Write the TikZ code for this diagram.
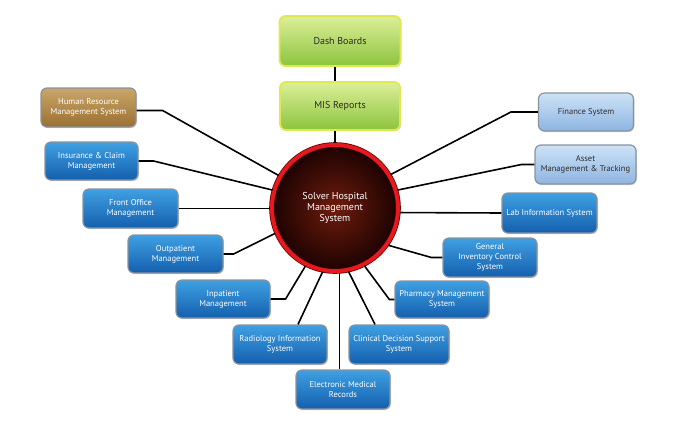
\documentclass[tikz,border=0pt]{standalone}
\usepackage{fontspec}
\setmainfont{PT Sans}
\usetikzlibrary{shadows,calc}
\definecolor{bluetop}{HTML}{3FA0E2}
\definecolor{bluebot}{HTML}{145FAE}
\definecolor{lbtop}{HTML}{CDE2F6}
\definecolor{lbbot}{HTML}{8DB5E1}
\definecolor{grtop}{HTML}{DCEF98}
\definecolor{grbot}{HTML}{8CC43E}
\definecolor{gredge}{HTML}{E2E650}
\definecolor{hrtop}{HTML}{CAA66A}
\definecolor{hrbot}{HTML}{9A7031}
\definecolor{boxedge}{HTML}{8A939C}
\definecolor{ringred}{HTML}{E8191E}
\definecolor{coreinner}{HTML}{6E1C0C}
\definecolor{coreouter}{HTML}{1C0202}
\definecolor{darktext}{HTML}{2B2B2B}
\begin{document}
\begin{tikzpicture}[x=1pt,y=-1pt,
  box/.style={rounded corners=6pt, draw=boxedge, line width=1.2pt, align=center,
    font=\fontsize{8.5}{10}\selectfont, inner sep=2pt,
    drop shadow={opacity=0.3, shadow xshift=1pt, shadow yshift=-1.2pt}},
  bluebox/.style={box, top color=bluetop, bottom color=bluebot, text=white},
  lightbox/.style={box, top color=lbtop, bottom color=lbbot, text=darktext},
  hrbox/.style={box, top color=hrtop, bottom color=hrbot, text=white},
  greenbox/.style={box, draw=gredge, line width=1.8pt, top color=grtop, bottom color=grbot,
    text=darktext, font=\fontsize{10}{12}\selectfont},
  hub/.style={circle, minimum size=126pt, inner color=coreinner, outer color=coreouter,
    draw=ringred, line width=4pt, text=white, align=center,
    font=\fontsize{10}{11}\selectfont,
    preaction={draw=black!60!red, line width=5.6pt}},
  link/.style={line width=1.6pt, draw=black}
]
\useasboundingbox (0,0) rectangle (680,423);

\node[greenbox, minimum width=121pt, minimum height=50pt] (dash) at (340,41) {Dash Boards};
\node[greenbox, minimum width=120pt, minimum height=48pt] (mis) at (340,106) {MIS Reports};
\node[hub] (c) at (335,208) {Solver Hospital\\Management\\System};

\node[hrbox, minimum width=95pt, minimum height=39pt] (hr) at (88.5,107.5) {Human Resource\\Management System};
\node[bluebox, minimum width=93pt, minimum height=38pt] (ins) at (91.5,161) {Insurance \& Claim\\Management};
\node[bluebox, minimum width=95pt, minimum height=39pt] (fo) at (130.5,208.5) {Front Office\\Management};
\node[bluebox, minimum width=95pt, minimum height=38pt] (outp) at (175.5,254) {Outpatient\\Management};
\node[bluebox, minimum width=94pt, minimum height=38pt] (inp) at (223,299) {Inpatient\\Management};
\node[bluebox, minimum width=94pt, minimum height=39pt] (rad) at (280,344.5) {Radiology Information\\System};
\node[bluebox, minimum width=94pt, minimum height=39pt] (emr) at (343,389.5) {Electronic Medical\\Records};
\node[bluebox, minimum width=100pt, minimum height=39pt] (cds) at (399,344.5) {Clinical Decision Support\\System};
\node[bluebox, minimum width=94pt, minimum height=37pt] (pharm) at (442,299.5) {Pharmacy Management\\System};
\node[bluebox, minimum width=94pt, minimum height=39pt] (gi) at (490,257.5) {General\\Inventory Control\\System};
\node[bluebox, minimum width=95pt, minimum height=40pt] (lab) at (549.5,213) {Lab Information System};
\node[lightbox, minimum width=101pt, minimum height=39pt] (asset) at (585.5,164.5) {Asset\\Management \& Tracking};
\node[lightbox, minimum width=95pt, minimum height=38pt] (fin) at (586,112) {Finance System};

% connectors
\draw[link] (dash.south -| c.north) -- (mis.north -| c.north);
\draw[link] (mis.south -| c.north) -- (c.north);
\draw[link] ($(hr.east)+(0,3)$) -- ++(26,0) -- (c.150);
\draw[link] (ins.east) -- ++(15,0) -- (c.164);
\draw[link] (fo.east) -- (fo.east -| c.west);
\draw[link] (outp.east) -- ++(10,0) -- (c.-157);
\draw[link] (inp.east) -- ++(15,0) -- (c.-117);
\draw[link] ($(rad.north)+(18,0)$) -- (c.-101);
\draw[link] (c.-86) -- (c.-86 |- emr.north);
\draw[link] ($(cds.north)+(-24,0)$) -- (c.-78);
\draw[link] (pharm.west) -- ++(-5,0) -- (c.-63);
\draw[link] (gi.west) -- ++(-11,0) -- (c.-35);
\draw[link] (lab.west) -- (c.-4);
\draw[link] (asset.west) -- ++(-13,0) -- (c.16);
\draw[link] (fin.west) -- ++(-27,0) -- (c.31);
\end{tikzpicture}
\end{document}
